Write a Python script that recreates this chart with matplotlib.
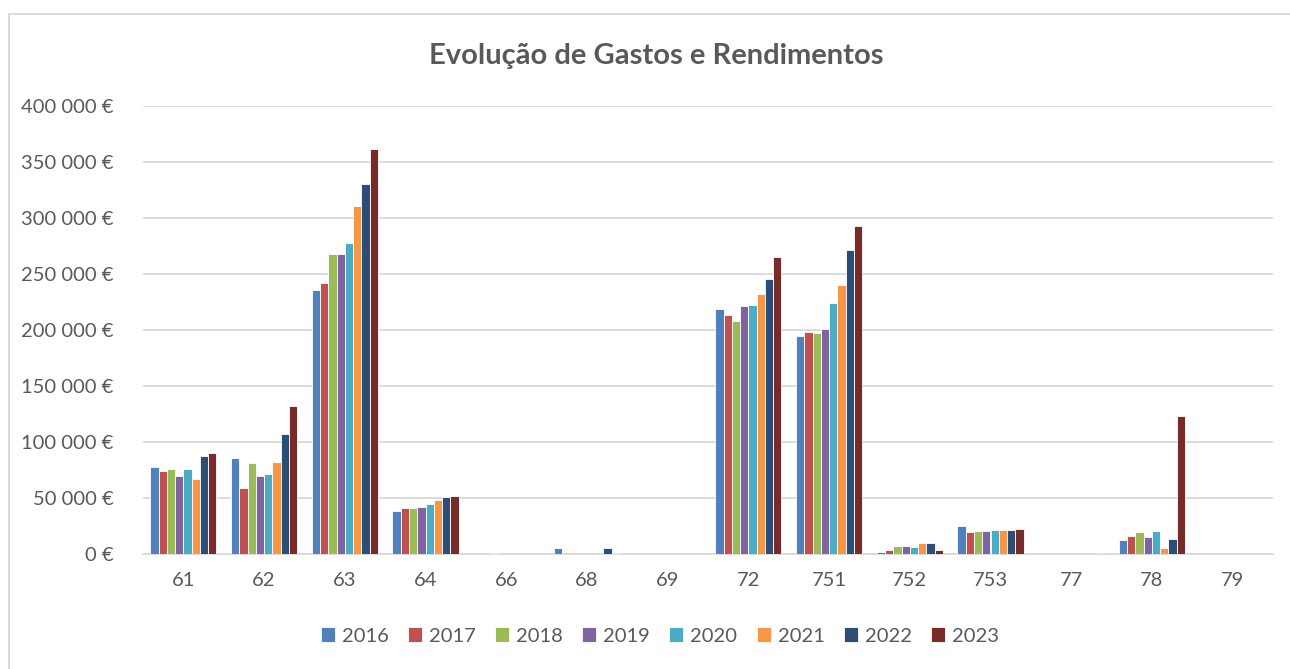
import numpy as np
import matplotlib
matplotlib.use("Agg")
import matplotlib.pyplot as plt
from matplotlib.lines import Line2D

plt.rcParams['font.family'] = ['Lato', 'DejaVu Sans']

categories = ["61", "62", "63", "64", "66", "68", "69", "72", "751", "752", "753", "77", "78", "79"]
years = ["2016", "2017", "2018", "2019", "2020", "2021", "2022", "2023"]
colors = ["#4F81BD", "#C0504D", "#9BBB59", "#8064A2", "#4BACC6", "#F79646", "#2C4D75", "#772C2A"]

# valores por ano, uma entrada por conta
v2016 = [78000, 86000, 235700, 38400, 0, 5800, 300, 218500, 194300, 1800, 25000, 0, 12500, 0]
v2017 = [74400, 58600, 242000, 40800, 0, 0, 0, 213400, 197900, 3600, 19900, 0, 16100, 300]
v2018 = [76200, 81000, 267900, 40800, 500, 0, 0, 208000, 197300, 7100, 20800, 0, 19600, 0]
v2019 = [69600, 69600, 267900, 41700, 0, 300, 0, 221700, 200600, 6800, 20500, 0, 15200, 0]
v2020 = [75600, 71400, 277400, 44900, 0, 0, 0, 222600, 224100, 6500, 21100, 0, 20500, 0]
v2021 = [66700, 82400, 311000, 48200, 0, 0, 0, 232400, 240500, 9800, 21700, 0, 5100, 0]
v2022 = [87500, 106800, 330700, 50600, 0, 5600, 300, 245500, 271400, 10100, 21400, 0, 13700, 0]
v2023 = [89900, 132000, 361600, 51500, 0, 1000, 0, 264900, 292600, 3300, 22300, 1200, 123500, 0]
series = [v2016, v2017, v2018, v2019, v2020, v2021, v2022, v2023]

yticks = [0, 50000, 100000, 150000, 200000, 250000, 300000, 350000, 400000]

fig = plt.figure(figsize=(12.9, 6.69), dpi=100)
ax = fig.add_axes([143 / 1290, 1 - 554 / 669, 1130 / 1290, 448 / 669])

# moldura da área do gráfico (só se vê o lado esquerdo e o topo)
fig.lines.append(Line2D([8.5 / 1290, 8.5 / 1290], [0, 1 - 13.5 / 669], transform=fig.transFigure,
                        color="#d9d9d9", linewidth=1.3))
fig.lines.append(Line2D([8.5 / 1290, 1], [1 - 13.5 / 669, 1 - 13.5 / 669], transform=fig.transFigure,
                        color="#d9d9d9", linewidth=1.3))

x = np.arange(len(categories))
w = 0.82 / len(years)
for i, (yr, vals) in enumerate(zip(years, series)):
    ax.bar(x - 0.41 + w * (i + 0.5), vals, width=w, color=colors[i], edgecolor="white",
           linewidth=0.6, label=yr, zorder=3)

ax.set_xlim(-0.5, len(categories) - 0.5)
ax.set_ylim(0, 400000)
ax.set_yticks(yticks)
ax.set_yticklabels([("{:,}".format(t).replace(",", " ") + " €") for t in yticks])
ax.set_xticks(x)
ax.set_xticklabels(categories)
ax.grid(axis="y", color="#d9d9d9", linewidth=1.3, zorder=0)
for s in ["top", "right", "left"]:
    ax.spines[s].set_visible(False)
ax.spines["bottom"].set_color("#d9d9d9")
ax.spines["bottom"].set_linewidth(1.3)
ax.tick_params(axis="both", length=0, labelsize=14.5, labelcolor="#595959")
ax.tick_params(axis="y", pad=21)
ax.tick_params(axis="x", pad=13)

fig.text(656 / 1290, 1 - 56 / 669, "Evolução de Gastos e Rendimentos", ha="center", va="center",
         fontsize=21, fontweight="bold", color="#595959")

ax.legend(loc="center", bbox_to_anchor=(660 / 1290, 1 - 636 / 669), bbox_transform=fig.transFigure,
          ncol=8, frameon=False, fontsize=14.5, handlelength=0.7, handleheight=0.7,
          handletextpad=0.35, columnspacing=0.95, labelcolor="#595959")

fig.savefig("out.png", dpi=100)
